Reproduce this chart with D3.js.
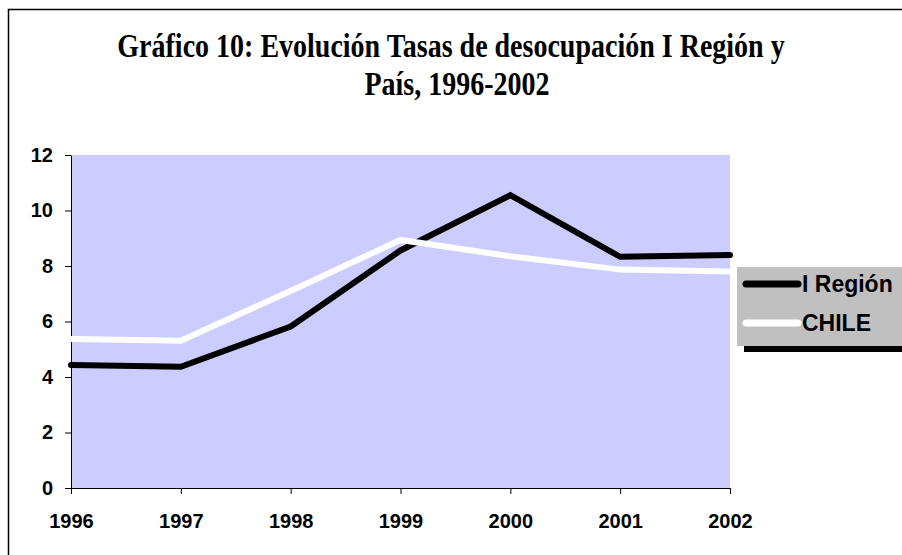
<!DOCTYPE html>
<html>
<head>
<meta charset="utf-8">
<script src="https://cdn.jsdelivr.net/npm/d3@7"></script>
<style>
  body { margin: 0; background: #fff; }
  svg { display: block; }
  .axis text { font-family: "Liberation Sans", Arial, sans-serif; font-weight: bold; font-size: 20px; fill: #000; }
  .axis path, .axis line { stroke: #000; }
</style>
</head>
<body>
<script>
var W = 902, H = 555;
var margin = {top: 155, right: 172, bottom: 67, left: 71},
    w = W - margin.left - margin.right,
    h = H - margin.top - margin.bottom;

/* data */
var years = ["1996", "1997", "1998", "1999", "2000", "2001", "2002"];
var region = [4.43, 4.37, 5.82, 8.56, 10.55, 8.33, 8.4];
var chile = [5.37, 5.31, 7.1, 8.94, 8.35, 7.87, 7.8];
var yTicks = [0, 2, 4, 6, 8, 10, 12];
var seriesNames = ["I Región", "CHILE"];
var seriesColors = ["#000000", "#ffffff"];
var titleLines = ["Gráfico 10: Evolución Tasas de desocupación I Región y", "País, 1996-2002"];

var svg = d3.select("body").append("svg")
    .attr("width", W)
    .attr("height", H);

/* outer frame (only top and left visible) */
svg.append("path")
    .attr("d", "M8.5," + H + "V9.5H" + W)
    .attr("fill", "none")
    .attr("stroke", "#000")
    .attr("stroke-width", 1.5);

/* title, slightly stretched vertically like the original */
var titleY = [57, 95];
var titleX = [451, 457];
titleLines.forEach(function(t, i) {
    svg.append("text")
        .attr("transform", "translate(" + titleX[i] + "," + titleY[i] + ") scale(1,1.17)")
        .attr("text-anchor", "middle")
        .style("font-family", "'Liberation Serif', 'Times New Roman', serif")
        .style("font-weight", "bold")
        .style("font-size", "28px")
        .text(t);
});

var g = svg.append("g")
    .attr("transform", "translate(" + margin.left + "," + margin.top + ")");

/* scales */
var xScale = d3.scalePoint()
    .domain(years)
    .range([0, w]);
var yScale = d3.scaleLinear()
    .domain([0, 12])
    .range([h, 0]);

/* plot area */
g.append("rect")
    .attr("x", 0)
    .attr("y", 0)
    .attr("width", w)
    .attr("height", h)
    .attr("fill", "#ccccff");

/* axes */
var yAxis = d3.axisLeft(yScale)
    .tickValues(yTicks)
    .tickSize(6)
    .tickPadding(12)
    .tickFormat(d3.format("d"));
var xAxis = d3.axisBottom(xScale)
    .tickSize(6)
    .tickPadding(20);

g.append("g")
    .attr("class", "axis")
    .call(yAxis)
    .call(function(s) { s.select(".domain").attr("d", "M0.5," + (h + 0.5) + "V0.5"); });

g.append("g")
    .attr("class", "axis")
    .attr("transform", "translate(0," + h + ")")
    .call(xAxis)
    .call(function(s) { s.select(".domain").attr("d", "M0.5,0.5H" + (w + 0.5)); });

/* lines */
var line = d3.line()
    .x(function(d, i) { return xScale(years[i]); })
    .y(function(d) { return yScale(d); });

[region, chile].forEach(function(vals, k) {
    g.append("path")
        .datum(vals)
        .attr("d", line)
        .attr("fill", "none")
        .attr("stroke", seriesColors[k])
        .attr("stroke-width", 6)
        .attr("stroke-linecap", "round")
        .attr("stroke-linejoin", "miter");
});

/* legend */
var lg = svg.append("g").attr("transform", "translate(737,267)");
lg.append("rect")
    .attr("x", 7).attr("y", 79)
    .attr("width", 200).attr("height", 6)
    .attr("fill", "#000");
lg.append("rect")
    .attr("x", 0).attr("y", 0)
    .attr("width", 200).attr("height", 79)
    .attr("fill", "#c0c0c0");

seriesNames.forEach(function(name, k) {
    var yy = 17 + k * 39;
    lg.append("line")
        .attr("x1", 9).attr("x2", 61)
        .attr("y1", yy).attr("y2", yy)
        .attr("stroke", seriesColors[k])
        .attr("stroke-width", 7)
        .attr("stroke-linecap", "round");
    lg.append("text")
        .attr("x", 65)
        .attr("y", yy + 8)
        .style("font-family", "'Liberation Sans', Arial, sans-serif")
        .style("font-weight", "bold")
        .style("font-size", "23px")
        .text(name);
});
</script>
</body>
</html>
